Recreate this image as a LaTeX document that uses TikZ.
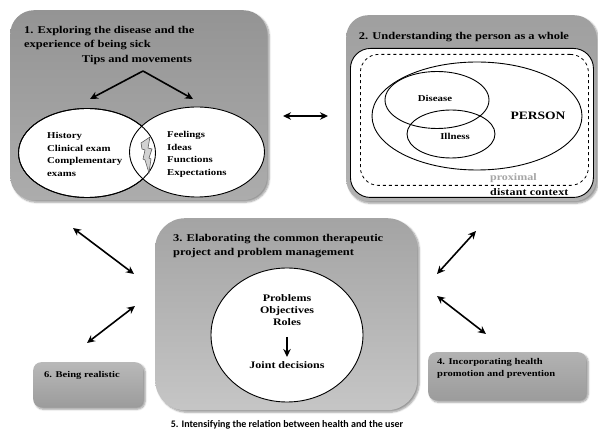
\documentclass[tikz,border=0pt]{standalone}
\usepackage{fontspec}
\setmainfont[FakeStretch=1.2]{Liberation Serif}
\newfontfamily\calib{Carlito}
\usetikzlibrary{shapes.geometric,arrows.meta,shadows.blur}
\begin{document}
\begin{tikzpicture}[x=1pt,y=-1pt,
  every node/.style={font=\bfseries\fontsize{10.4}{14}\selectfont},
  graybox/.style={draw=none, blur shadow={shadow xshift=2pt,shadow yshift=-2pt,shadow blur steps=6,shadow opacity=40}},
  dbl/.style={{Stealth[length=8pt,width=7.5pt]}-{Stealth[length=8pt,width=7.5pt]}, line width=1.6pt},
  sgl/.style={-{Stealth[length=8pt,width=7.5pt]}, line width=1.6pt},
  ell/.style={draw, line width=0.9pt, ellipse, inner sep=0pt},
  txt/.style={inner sep=0pt, align=left, anchor=west},
  smalltxt/.style={inner sep=0pt, align=left, anchor=north west, font=\bfseries\fontsize{8.8}{12.5}\selectfont},
  etxt/.style={inner sep=0pt, align=left, anchor=north west, font=\bfseries\fontsize{9}{12.7}\selectfont}]
\useasboundingbox (0,0) rectangle (598,430);
% Box 1
\node[graybox, rounded corners=24pt, minimum width=257pt, minimum height=190pt, top color=gray!80!black!70, bottom color=gray!65, anchor=north west] (b1) at (10,10) {};
\node[txt, align=left, anchor=north west] (t1) at (24,26) {1. Exploring the disease and the\\experience of being sick};
\node[inner sep=0pt] (tips) at (137,60) {Tips and movements};
\coordinate (apex) at (143,71);
\coordinate (la) at (90,99);
\coordinate (ra) at (193,99);
\draw[sgl] (apex) -- (la);
\draw[sgl] (apex) -- (ra);
\node[ell, fill=white, minimum width=137pt, minimum height=89pt] (e1) at (87,153) {};
\node[ell, fill=white, minimum width=135pt, minimum height=90pt] (e2) at (197,152) {};
\draw[line width=0.9pt] (87,153) ellipse [x radius=68.5pt, y radius=44.5pt];
\filldraw[fill=gray!35, draw=black!70, line width=0.5pt] (141,143) -- (150,137) -- (148,148) -- (152,149) -- (149,158) -- (151,159) -- (149,173) -- (145,160) -- (143,159) -- (145,150) -- (142,149) -- cycle;
\node[etxt] (lt) at (47,132) {History\\Clinical exam\\Complementary\\exams};
\node[etxt] (rt) at (167,131) {Feelings\\Ideas\\Functions\\Expectations};
% Box 2
\node[graybox, rounded corners=22pt, minimum width=250pt, minimum height=186pt, top color=gray!75, bottom color=gray!60, anchor=north west] (b2) at (346,15) {};
\node[inner sep=0pt] (t2) at (464,37) {2. Understanding the person as a whole};
\node[draw, line width=0.9pt, fill=white, rounded corners=20pt, minimum width=243pt, minimum height=149pt, anchor=north west] (w2) at (350,48) {};
\node[draw, dashed, line width=0.8pt, rounded corners=18pt, minimum width=228pt, minimum height=131pt, anchor=north west] (d2) at (360,54) {};
\node[ell, minimum width=210pt, minimum height=108pt] (ep) at (477,116) {};
\node[ell, minimum width=104pt, minimum height=57pt] (ed) at (437,100) {};
\node[ell, minimum width=88pt, minimum height=48pt] (ei) at (451,134) {};
\node[inner sep=0pt, font=\bfseries\fontsize{9}{10}\selectfont] (dis) at (435,98) {Disease};
\node[inner sep=0pt, font=\bfseries\fontsize{9}{10}\selectfont] (ill) at (455,136) {Illness};
\node[inner sep=0pt, font=\bfseries\fontsize{11.3}{14}\selectfont] (per) at (538,116) {PERSON};
\node[inner sep=0pt, anchor=west, text=gray!70, font=\bfseries\fontsize{10}{12}\selectfont] (prox) at (490,178) {proximal};
\node[inner sep=0pt, anchor=west, font=\bfseries\fontsize{10}{12}\addfontfeature{LetterSpace=2}\selectfont] (dist) at (490,192) {distant context};
% arrow between 1 and 2
\coordinate (m1) at (283,116);
\coordinate (m2) at (328,116);
\draw[dbl] (m1) -- (m2);
% Box 3
\node[graybox, rounded corners=30pt, minimum width=262pt, minimum height=192pt, top color=gray!90!black!65, bottom color=gray!45, anchor=north west] (b3) at (155,218) {};
\node[txt, anchor=north west, align=left] (t3) at (173,234) {3. Elaborating the common therapeutic\\project and problem management};
\node[ell, fill=white, minimum width=152pt, minimum height=134pt] (e3) at (287,335) {};
\node[inner sep=0pt, align=center, anchor=north, font=\bfseries\fontsize{10}{12}\selectfont] (pr) at (287,294) {Problems\\Objectives\\Roles};
\node[inner sep=0pt, font=\bfseries\fontsize{10}{12}\selectfont] (jd) at (287,365) {Joint decisions};
\draw[sgl] (287,337) -- (287,357);
% Box 6
\node[graybox, rounded corners=8pt, minimum width=110pt, minimum height=45pt, top color=gray!55, bottom color=gray!78, anchor=north west] (b6) at (33,362) {};
\node[smalltxt, anchor=west] (t6) at (44,375) {6. Being realistic};
% Box 4
\node[graybox, rounded corners=8pt, minimum width=158pt, minimum height=48pt, top color=gray!60, bottom color=gray!78, anchor=north west] (b4) at (428,352) {};
\node[smalltxt] (t4) at (437,358) {4. Incorporating health\\promotion and prevention};
% Footer
\node[inner sep=0pt, font=\calib\bfseries\fontsize{10}{11}\selectfont] (t5) at (287,425) {5. Intensifying the relation between health and the user};
% diagonal arrows
\coordinate (a1) at (73,228);
\coordinate (a2) at (134,274);
\coordinate (a3) at (87,343);
\coordinate (a4) at (135,306);
\coordinate (a5) at (476,231);
\coordinate (a6) at (437,274);
\coordinate (a7) at (437,296);
\coordinate (a8) at (486,334);
\draw[dbl] (a1) -- (a2);
\draw[dbl] (a3) -- (a4);
\draw[dbl] (a5) -- (a6);
\draw[dbl] (a7) -- (a8);
\end{tikzpicture}
\end{document}
